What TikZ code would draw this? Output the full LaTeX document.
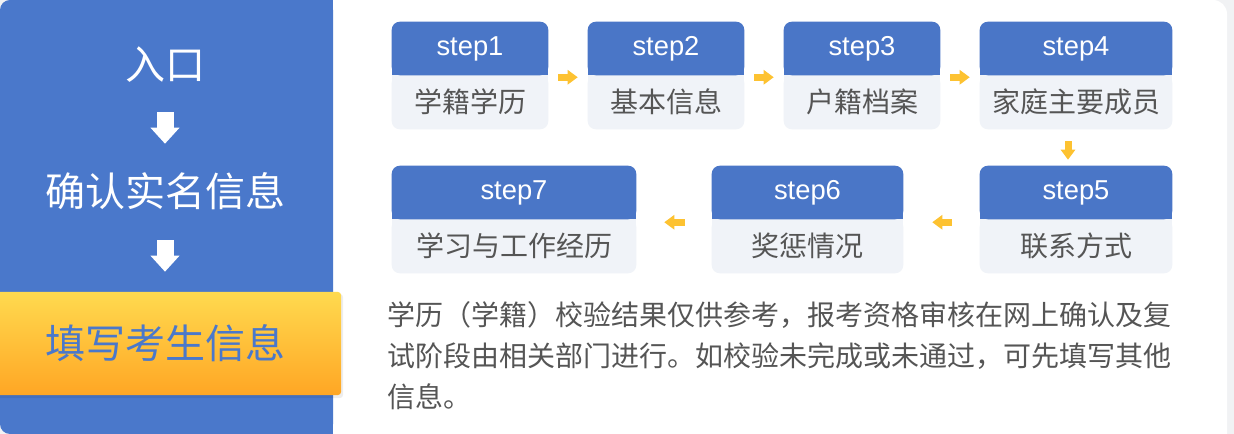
\documentclass[tikz,border=0pt]{standalone}
\usepackage{fontspec}
\setmainfont{Noto Sans CJK SC}
\newfontfamily\cjkf{Noto Sans CJK SC}
\newfontfamily\latf{Liberation Sans}
\usetikzlibrary{arrows.meta,backgrounds}
\definecolor{pblue}{HTML}{4A78CB}
\definecolor{hblue}{HTML}{4A76C7}
\definecolor{bodyg}{HTML}{F0F3F8}
\definecolor{txtg}{HTML}{555555}
\definecolor{arrowy}{HTML}{FDC231}
\definecolor{bandtop}{HTML}{FFDA4F}
\definecolor{bandbot}{HTML}{FFA624}
\definecolor{pagebg}{HTML}{F1F2F4}
\newcommand\stepbg[2]{%
  \fill[bodyg, rounded corners=6pt] (#2.north west) rectangle (#2.south east);
  \fill[bodyg] (#2.north west) rectangle ([yshift=-6pt]#2.north east);
  \fill[hblue, rounded corners=6pt] (#1.north west) rectangle (#1.south east);
  \fill[hblue] ([yshift=6pt]#1.south west) rectangle (#1.south east);
}
\begin{document}
\begin{tikzpicture}[x=0.75pt,y=-0.75pt,
  hdr/.style={minimum height=39.75pt, inner sep=0pt, text=white, font=\latf\fontsize{20.5pt}{24pt}\selectfont},
  bdy/.style={minimum height=40.5pt, inner sep=0pt, text=txtg, font=\cjkf\fontsize{21pt}{25pt}\selectfont},
  lefttxt/.style={inner sep=0pt, text height=24pt, text depth=6pt, font=\cjkf\fontsize{30pt}{36pt}\selectfont},
  para/.style={inner sep=0pt, anchor=base west, text=txtg, font=\cjkf\fontsize{21pt}{25pt}\selectfont},
  warrow/.style={draw=white, line width=12.75pt, -{Triangle[length=12pt,width=21pt]}},
  yarrow/.style={draw=arrowy, line width=5.25pt, -{Triangle[length=7.5pt,width=10.5pt]}},
]
\useasboundingbox (0,0) rectangle (1234,434);

% left panel texts
\node[lefttxt, text=white] (entry) at (165,67.5) {入口};
\node[lefttxt, text=white] (confirm) at (165,195) {确认实名信息};
\node[lefttxt, text=pblue] (fillin) at (165,346.5) {填写考生信息};
\draw[warrow, shorten <=18.4pt, shorten >=23.25pt] (entry) -- (confirm);
\draw[warrow, shorten <=18.75pt, shorten >=40.9pt] (confirm) -- (fillin);

% step boxes row 1
\node[hdr, minimum width=117pt] (h1) at (470,48.5) {step1};
\node[bdy, minimum width=117pt] (b1) at (470,102) {学籍学历};
\node[hdr, minimum width=117pt] (h2) at (666,48.5) {step2};
\node[bdy, minimum width=117pt] (b2) at (666,102) {基本信息};
\node[hdr, minimum width=117pt] (h3) at (862,48.5) {step3};
\node[bdy, minimum width=117pt] (b3) at (862,102) {户籍档案};
\node[hdr, minimum width=144pt] (h4) at (1076,48.5) {step4};
\node[bdy, minimum width=144pt] (b4) at (1076,102) {家庭主要成员};
% row 2
\node[hdr, minimum width=144pt] (h5) at (1076,192.5) {step5};
\node[bdy, minimum width=144pt] (b5) at (1076,246) {联系方式};
\node[hdr, minimum width=143.25pt] (h6) at (807.5,192.5) {step6};
\node[bdy, minimum width=143.25pt] (b6) at (807.5,246) {奖惩情况};
\node[hdr, minimum width=183pt] (h7) at (514,192.5) {step7};
\node[bdy, minimum width=183pt] (b7) at (514,246) {学习与工作经历};

% yellow arrows
\draw[yarrow, shorten <=7.5pt, shorten >=7.5pt] ([yshift=-1.5pt]h1.south east) -- ([yshift=-1.5pt]h2.south west);
\draw[yarrow, shorten <=7.5pt, shorten >=7.5pt] ([yshift=-1.5pt]h2.south east) -- ([yshift=-1.5pt]h3.south west);
\draw[yarrow, shorten <=7.5pt, shorten >=7.5pt] ([yshift=-1.5pt]h3.south east) -- ([yshift=-1.5pt]h4.south west);
\draw[yarrow, shorten <=9pt, shorten >=4.5pt] ([xshift=-6pt]b4.south) -- ([xshift=-6pt]h5.north);
\draw[yarrow, shorten <=21pt, shorten >=21.75pt] ([yshift=-2.25pt]h5.south west) -- ([yshift=-2.25pt]h6.south east);
\draw[yarrow, shorten <=20.25pt, shorten >=21pt] ([yshift=-2.25pt]h6.south west) -- ([yshift=-2.25pt]h7.south east);

% note paragraph
\node[para] (p1) at (387,325.5) {学历（学籍）校验结果仅供参考，报考资格审核在网上确认及复};
\node[para] (p2) at (387,366.5) {试阶段由相关部门进行。如校验未完成或未通过，可先填写其他};
\node[para] (p3) at (387,407.5) {信息。};

\begin{scope}[on background layer]
  \fill[pagebg] (0,0) rectangle (1234,434);
  \fill[white, rounded corners=10.5pt] (300,0) rectangle (1227,470);
  \fill[pblue, rounded corners=7.5pt] (0,0) rectangle (333,434);
  \fill[pblue] (315,0) rectangle (333,434);
  \fill[black, opacity=0.07, rounded corners=2.25pt] (-5,294) rectangle (343,398);
  \shade[top color=bandtop, bottom color=bandbot, rounded corners=2.25pt] (-5,292) rectangle (341,395);
  \stepbg{h1}{b1}
  \stepbg{h2}{b2}
  \stepbg{h3}{b3}
  \stepbg{h4}{b4}
  \stepbg{h5}{b5}
  \stepbg{h6}{b6}
  \stepbg{h7}{b7}
\end{scope}
\end{tikzpicture}
\end{document}
